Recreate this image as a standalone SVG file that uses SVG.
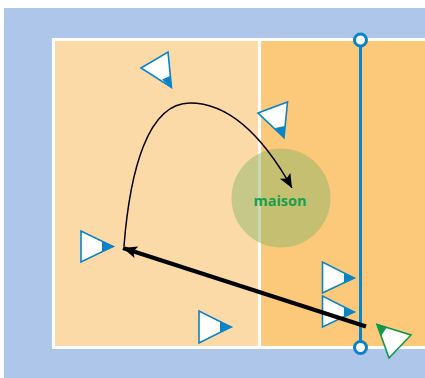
<svg xmlns="http://www.w3.org/2000/svg" width="425" height="378" viewBox="0 0 425 378">
<style>
.body{fill:#fff;stroke:#0a84c6;stroke-width:1.6;stroke-linejoin:miter}
.tip{fill:#0a84c6}
.g .body{stroke:#109a48}
.g .tip{fill:#109a48}
text{font-family:"Open Sans","Liberation Sans",sans-serif;font-weight:700;font-size:14.5px;fill:#16a04a}
</style>
<defs>
<marker id="a1" markerUnits="userSpaceOnUse" markerWidth="16" markerHeight="14" refX="14" refY="7" orient="auto"><path d="M0,1 L14,7 L0,13 L3,7 Z" fill="#000"/></marker>
</defs>
<g id="court">
<rect x="4" y="8" width="421" height="370" fill="#aec6ea"/>
<rect x="55" y="41" width="205" height="305" fill="#fcdaa8"/>
<rect x="260" y="41" width="165" height="305" fill="#fcc879"/>
<path d="M425,39.5 H53.5 V347.5 H425 M259.5,39.5 V347.5" fill="none" stroke="#fff" stroke-width="3.2"/>
</g>
<g id="maison">
<circle cx="281" cy="198" r="49.5" fill="#8db56a" fill-opacity="0.5"/>
<text x="280" y="206" text-anchor="middle">maison</text>
</g>
<g id="net">
<line x1="360.5" y1="40" x2="360.5" y2="347" stroke="#0a84c6" stroke-width="3"/>
<circle cx="360.5" cy="40" r="6" fill="#fff" stroke="#0a84c6" stroke-width="3"/>
<circle cx="360.5" cy="347.5" r="6" fill="#fff" stroke="#0a84c6" stroke-width="3"/>
</g>
<g id="p1"><polygon class="body" points="141,68 168,52 171.5,87.5"/><polygon class="tip" points="162,79.5 170,76 172,88.5"/></g>
<g id="p2"><polygon class="body" points="258,113 287.5,102 284,137.5"/><polygon class="tip" points="275,128 285,126 284,138.5"/></g>
<g id="p3"><polygon class="body" points="81,231 81,262 113,246.5"/><polygon class="tip" points="102,241 102,252 115,246.5"/></g>
<g id="p4"><polygon class="body" points="199,311 199,343 231,327"/><polygon class="tip" points="220,321.5 220,332.5 233,327"/></g>
<g id="p5"><polygon class="body" points="322.500,262 322.500,293 354,278"/><polygon class="tip" points="344,273 344,283.500 356,278"/></g>
<g id="p6"><polygon class="body" points="322.500,296 322.500,327 354,312"/><polygon class="tip" points="344,307 344,317.500 356,312"/></g>
<g id="p7" class="g"><polygon class="body" points="377,324.500 411,335 389,358"/><polygon class="tip" points="387,327 381,336 376,323.500"/></g>
<g id="connectors" fill="none" stroke="#000">
<path d="M124,246 C130,170 148,103 190,103 C232,103 265,140 292,188" stroke-width="1.5" marker-end="url(#a1)"/>
<path d="M366,326.500 L123,248" stroke-width="4" marker-end="url(#a1)"/>
</g>
</svg>
